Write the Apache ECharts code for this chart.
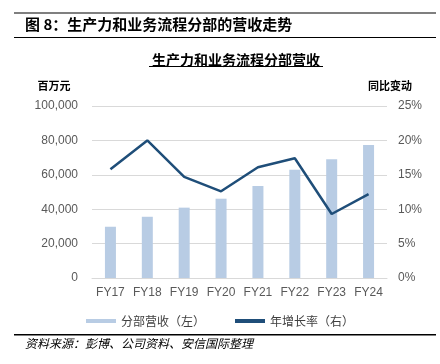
<!DOCTYPE html>
<html>
<head>
<meta charset="utf-8">
<script src="https://cdn.jsdelivr.net/npm/echarts@6/dist/echarts.min.js"></script>
<style>
  html, body { margin: 0; padding: 0; background: #fff; }
  #chart { width: 440px; height: 364px; }
</style>
</head>
<body>
<div id="chart"></div>
<script>
// 财年
var years = ['FY17', 'FY18', 'FY19', 'FY20', 'FY21', 'FY22', 'FY23', 'FY24'];
// 分部营收 (百万元)
var revenue = [29800, 35600, 40900, 46100, 53500, 63000, 69000, 77300];
// 年增长率 (%)
var growth = [15.8, 20.0, 14.7, 12.6, 16.1, 17.4, 9.3, 12.2];
var leftTicks = [0, 100000, 20000];
var rightTicks = [0, 25, 5];

var cjk = '"Noto Sans CJK SC", sans-serif';
var latin = '"Liberation Sans", Arial, sans-serif';

var chart = echarts.init(document.getElementById('chart'));
chart.setOption({
  animation: false,
  backgroundColor: '#fff',
  grid: { left: 92, right: 53, top: 106, bottom: 86 },
  legend: {
    top: 310,
    left: 'center',
    itemGap: 30,
    itemWidth: 30,
    itemHeight: 4,
    textStyle: { fontFamily: cjk, fontSize: 12, color: '#404040' },
    data: [
      { name: '分部营收（左）', icon: 'rect' },
      { name: '年增长率（右）', icon: 'rect' }
    ]
  },
  xAxis: {
    type: 'category',
    data: years,
    axisLine: { lineStyle: { color: '#d9d9d9' } },
    axisTick: { show: false },
    axisLabel: { interval: 0, fontFamily: latin, fontSize: 12, color: '#595959', margin: 9 }
  },
  yAxis: [
    {
      type: 'value',
      min: leftTicks[0], max: leftTicks[1], interval: leftTicks[2],
      axisLabel: {
        fontFamily: latin, fontSize: 12, color: '#595959', margin: 14,
        formatter: function (v) { return v.toLocaleString('en-US'); }
      },
      splitLine: { lineStyle: { color: '#d9d9d9', width: 1 } }
    },
    {
      type: 'value',
      min: rightTicks[0], max: rightTicks[1], interval: rightTicks[2],
      axisLabel: {
        fontFamily: latin, fontSize: 12, color: '#595959', margin: 11,
        formatter: '{value}%'
      },
      splitLine: { show: false }
    }
  ],
  series: [
    {
      name: '分部营收（左）',
      type: 'bar',
      data: revenue,
      barWidth: 11,
      itemStyle: { color: '#b8cce4' }
    },
    {
      name: '年增长率（右）',
      type: 'line',
      yAxisIndex: 1,
      data: growth,
      symbol: 'none',
      lineStyle: { color: '#1f4e79', width: 2.5 },
      itemStyle: { color: '#1f4e79' }
    }
  ],
  graphic: [
    { type: 'rect', shape: { x: 14, y: 12, width: 422, height: 2 }, style: { fill: '#7f7f7f' } },
    { type: 'text', left: 25, top: 17, style: { text: '图 8：生产力和业务流程分部的营收走势', font: 'bold 15px ' + cjk, fill: '#000' } },
    { type: 'rect', shape: { x: 14, y: 37, width: 422, height: 1 }, style: { fill: '#000' } },
    { type: 'text', x: 236, y: 60, style: { text: '生产力和业务流程分部营收', font: 'bold 14px ' + cjk, fill: '#000', align: 'center', verticalAlign: 'middle' } },
    { type: 'rect', shape: { x: 149, y: 66, width: 174, height: 1 }, style: { fill: '#000' } },
    { type: 'text', x: 54, y: 86, style: { text: '百万元', font: 'bold 11px ' + cjk, fill: '#000', align: 'center', verticalAlign: 'middle' } },
    { type: 'text', x: 390, y: 86, style: { text: '同比变动', font: 'bold 11px ' + cjk, fill: '#000', align: 'center', verticalAlign: 'middle' } },
    { type: 'rect', shape: { x: 14, y: 334, width: 422, height: 1.5 }, style: { fill: '#000' } },
    { type: 'text', left: 25, top: 337, style: { text: '资料来源：彭博、公司资料、安信国际整理', font: 'italic 12px ' + cjk, fill: '#000' } }
  ]
});
</script>
</body>
</html>
